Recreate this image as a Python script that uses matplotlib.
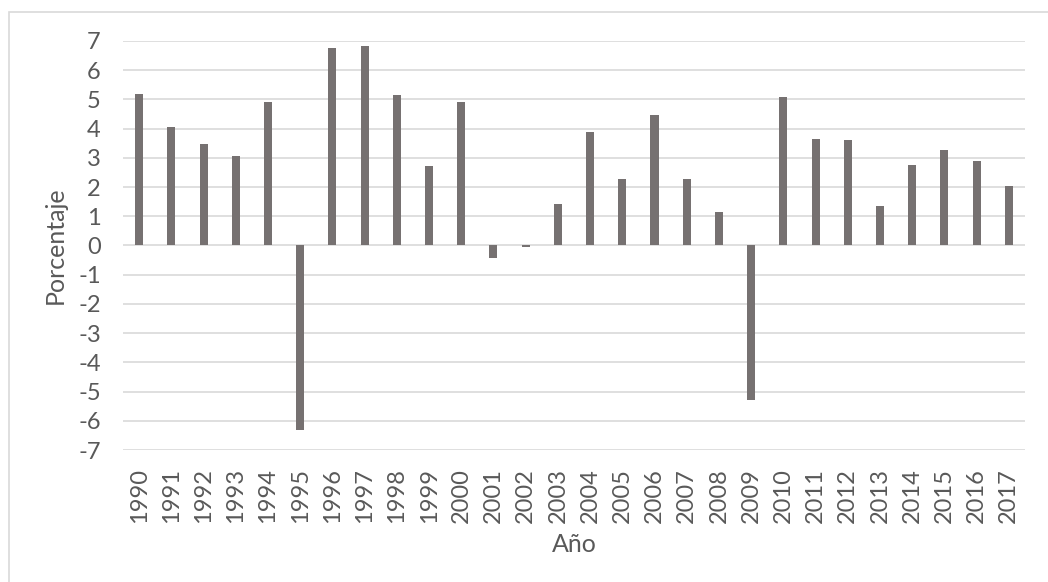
import matplotlib.pyplot as plt
from matplotlib.patches import Rectangle
import numpy as np

# ---- data ----
years = [str(y) for y in range(1990, 2018)]
growth = [5.17, 4.04, 3.48, 3.05, 4.92, -6.31, 6.75, 6.82, 5.14, 2.73,
          4.92, -0.42, -0.04, 1.43, 3.89, 2.28, 4.47, 2.26, 1.14, -5.29,
          5.09, 3.64, 3.62, 1.35, 2.77, 3.26, 2.90, 2.04]
yticks = list(range(-7, 8))

text_color = "#595959"
plt.rcParams["font.family"] = ["Lato", "DejaVu Sans"]

fig = plt.figure(figsize=(10.48, 5.82), dpi=100)
ax = fig.add_axes([0.1174, 0.2268, 0.8606, 0.7028])

x = np.arange(len(years))
ax.bar(x, growth, width=0.25, color="#767171", zorder=3)

ax.set_xlim(-0.5, len(years) - 0.5)
ax.set_ylim(-7, 7)
ax.set_yticks(yticks)
ax.set_yticklabels([str(t) for t in yticks])
ax.set_xticks(x)
ax.set_xticklabels(years, rotation=90)
ax.tick_params(axis="y", length=0, pad=16, labelsize=17, labelcolor=text_color)
ax.tick_params(axis="x", length=0, pad=13, labelsize=17, labelcolor=text_color)

ax.grid(axis="y", color="#d9d9d9", linewidth=1.2, zorder=0)
for s in ax.spines.values():
    s.set_visible(False)

ax.set_ylabel("Porcentaje", fontsize=18, color=text_color, labelpad=8)
ax.set_xlabel("Año", fontsize=18, color=text_color, labelpad=7)

# outer chart border
fig.patches.append(Rectangle((9 / 1048, -0.1), 1.2, 1 - 12 / 582 + 0.1,
                             transform=fig.transFigure, fill=False,
                             edgecolor="#d9d9d9", linewidth=1.2))

fig.savefig("out.png", dpi=100)
